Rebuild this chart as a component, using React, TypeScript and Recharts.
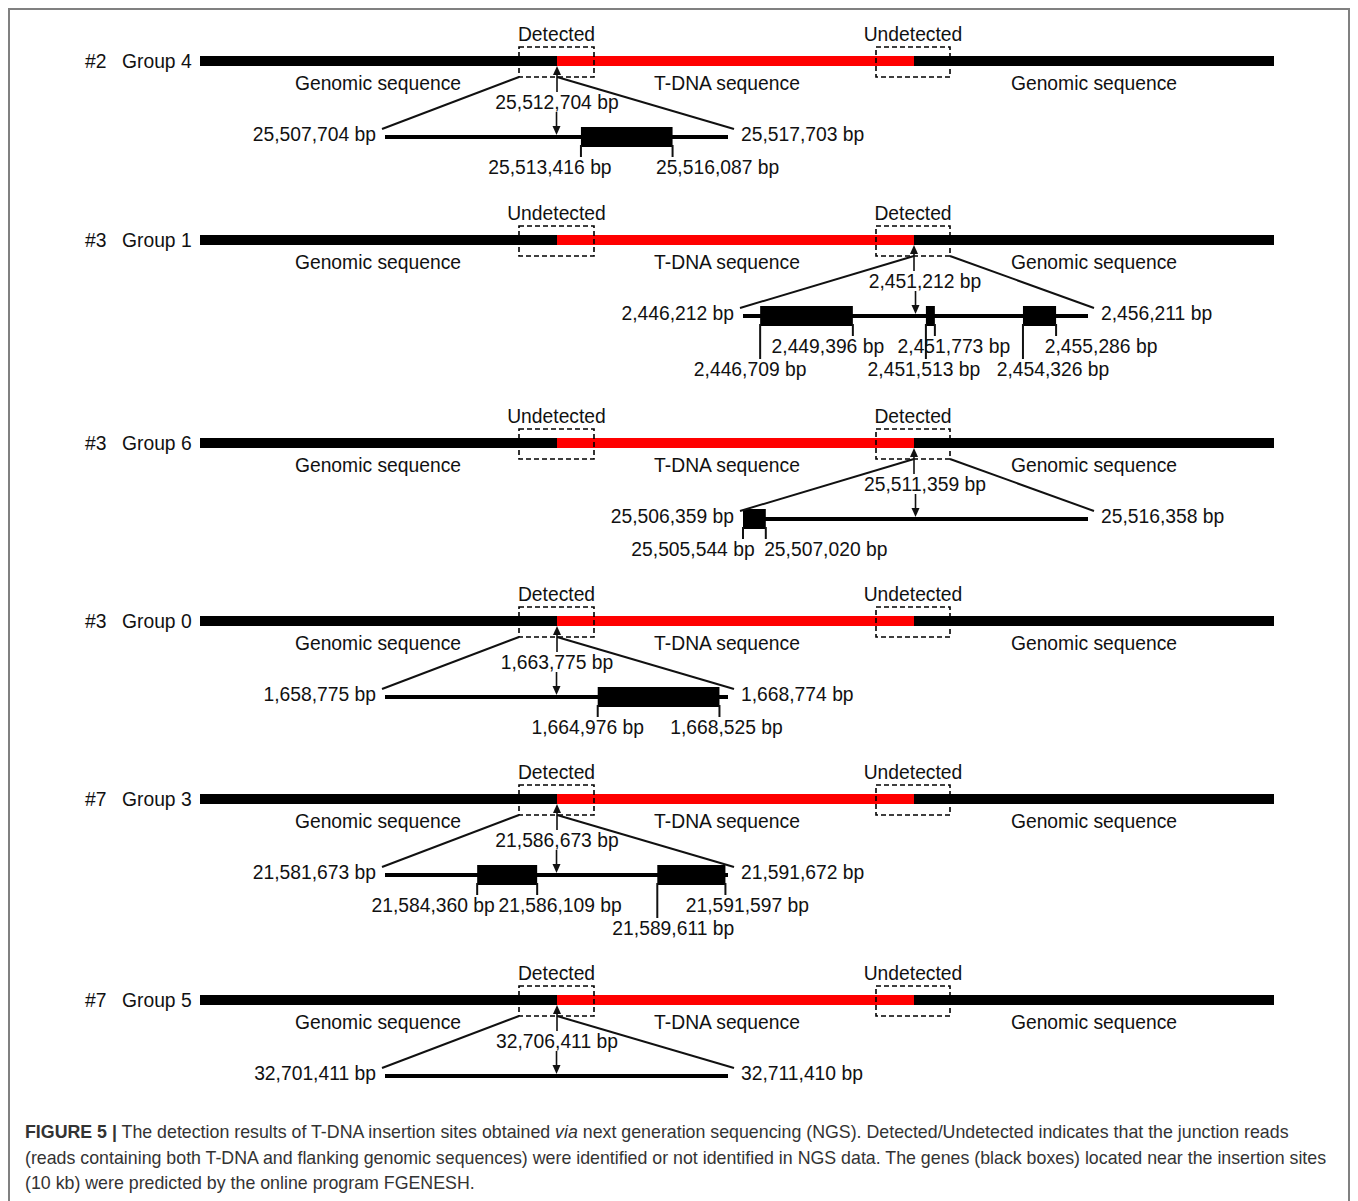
import React from 'react'
import { ComposedChart, XAxis, YAxis, Scatter, ReferenceArea, ReferenceLine } from 'recharts'

// ---- values ----
const lineIds = ['#2', '#3', '#3', '#3', '#7', '#7']
const groups = ['Group 4', 'Group 1', 'Group 6', 'Group 0', 'Group 3', 'Group 5']
// T-DNA border whose junction reads were found in the NGS data
const detectedSide = ['left', 'right', 'right', 'left', 'left', 'left']
const insertionBp = [25512704, 2451212, 25511359, 1663775, 21586673, 32706411]
const windowStart = [25507704, 2446212, 25506359, 1658775, 21581673, 32701411]
const windowEnd = [25517703, 2456211, 25516358, 1668774, 21591672, 32711410]
const genes: number[][][] = [
  [[25513416, 25516087]],
  [[2446709, 2449396], [2451513, 2451773], [2454326, 2455286]],
  [[25505544, 25507020]],
  [[1664976, 1668525]],
  [[21584360, 21586109], [21589611, 21591597]],
  [],
]

// ---- layout (diagram units = page pixels) ----
const W = 1338
const H = 1090
const X0 = 10
const Y0 = 10
const rowY = [61, 240, 443, 621, 799, 1000]
const BAR = [200, 1274]
const TDNA = [557, 914]
const BOX_L = [519, 594]
const BOX_R = [876, 950]
const INSET_L = [385, 728]
const INSET_R = [743, 1088]
const INSET_DY = 76
// gene label nudges: [startDx, startLevel, endDx, endLevel]
const geneLabelNudge: number[][][] = [
  [[-31, 0, 45, 0]],
  [[-10, 1, -25, 0], [-2, 1, 19, 0], [30, 1, 45, 0]],
  [[-50, 0, 60, 0]],
  [[-10, 0, 7, 0]],
  [[-44, 0, 23, 0], [16, 1, 22, 0]],
  [],
]

const FONT = '"Liberation Sans", Arial, Helvetica, sans-serif'
const INK = '#111'
const RED = '#ff0000'

const bp = (v: number) => `${v.toLocaleString('en-US')} bp`

function TextShape(props: any) {
  const { cx, cy, payload } = props
  if (cx == null || cy == null) return null
  return (
    <text x={cx + (payload.dx || 0)} y={cy} textAnchor={payload.anchor || 'middle'}
      dominantBaseline="central" fontFamily={FONT} fontSize={19.3} fill={INK}>
      {payload.text}
    </text>
  )
}

function ArrowShape(props: any) {
  const { cx, cy, payload } = props
  if (cx == null || cy == null) return null
  const s = payload.dir === 'up' ? 1 : -1
  return <polygon points={`${cx},${cy} ${cx - 4},${cy + s * 9} ${cx + 4},${cy + s * 9}`} fill={INK} />
}

const rows = groups.map((g, i) => {
  const left = detectedSide[i] === 'left'
  const y = rowY[i]
  const inset = y + INSET_DY
  const [a, b] = left ? INSET_L : INSET_R
  const k = (windowEnd[i] - windowStart[i]) / (b - a)
  const domain = [windowStart[i] - (a - X0) * k, windowEnd[i] + (X0 + W - b) * k]
  return { i, left, y, inset, a, b, domain, jx: left ? TDNA[0] : TDNA[1] }
})

const diagramTexts = rows.flatMap((r) => [
  { x: 85, y: r.y, text: lineIds[r.i], anchor: 'start' },
  { x: 122, y: r.y, text: groups[r.i], anchor: 'start' },
  { x: (BOX_L[0] + BOX_L[1]) / 2, y: r.y - 27, text: r.left ? 'Detected' : 'Undetected' },
  { x: (BOX_R[0] + BOX_R[1]) / 2, y: r.y - 27, text: r.left ? 'Undetected' : 'Detected' },
  { x: 378, y: r.y + 22, text: 'Genomic sequence' },
  { x: 727, y: r.y + 22, text: 'T-DNA sequence' },
  { x: 1094, y: r.y + 22, text: 'Genomic sequence' },
  { x: r.jx + (r.left ? 0 : 11), y: r.y + 41, text: bp(insertionBp[r.i]) },
  { x: r.a - 9, y: r.inset - 3, text: bp(windowStart[r.i]), anchor: 'end' },
  { x: r.b + 13, y: r.inset - 3, text: bp(windowEnd[r.i]), anchor: 'start' },
])

const upArrows = rows.map((r) => ({ x: r.jx, y: r.y + 5, dir: 'up' }))

export default function App() {
  return (
    <div style={{
      width: W, minHeight: 1200, borderTop: '2px solid #808080', borderLeft: '2px solid #808080',
      borderRight: '2px solid #808080', background: '#fff',
    }}>
      <ComposedChart width={W} height={H} margin={{ top: 0, right: 0, bottom: 0, left: 0 }}>
        <XAxis xAxisId="d" type="number" dataKey="x" domain={[X0, X0 + W]} allowDataOverflow hide />
        {rows.map((r) => (
          <XAxis key={`ax${r.i}`} xAxisId={`r${r.i}`} type="number" dataKey="x"
            domain={r.domain} allowDataOverflow hide />
        ))}
        <YAxis type="number" dataKey="y" domain={[Y0, Y0 + H]} reversed allowDataOverflow hide />

        {rows.flatMap((r) => [
          <ReferenceArea key={`bar${r.i}`} xAxisId="d" x1={BAR[0]} x2={BAR[1]} y1={r.y - 5} y2={r.y + 5}
            fill="#000" fillOpacity={1} stroke="none" />,
          <ReferenceArea key={`tdna${r.i}`} xAxisId="d" x1={TDNA[0]} x2={TDNA[1]} y1={r.y - 5} y2={r.y + 5}
            fill={RED} fillOpacity={1} stroke="none" />,
          <ReferenceArea key={`bl${r.i}`} xAxisId="d" x1={BOX_L[0]} x2={BOX_L[1]} y1={r.y - 14} y2={r.y + 16}
            fill="none" stroke="#000" strokeWidth={1.6} strokeDasharray="5 3" />,
          <ReferenceArea key={`br${r.i}`} xAxisId="d" x1={BOX_R[0]} x2={BOX_R[1]} y1={r.y - 14} y2={r.y + 16}
            fill="none" stroke="#000" strokeWidth={1.6} strokeDasharray="5 3" />,
          <ReferenceArea key={`in${r.i}`} xAxisId={`r${r.i}`} x1={windowStart[r.i]} x2={windowEnd[r.i]}
            y1={r.inset - 2} y2={r.inset + 2} fill="#000" fillOpacity={1} stroke="none" />,
          ...genes[r.i].map(([s, e], gi) => (
            <ReferenceArea key={`g${r.i}-${gi}`} xAxisId={`r${r.i}`} x1={Math.max(s, windowStart[r.i])} x2={e}
              y1={r.inset - 10} y2={r.inset + 10} fill="#000" fillOpacity={1} stroke="none" />
          )),
        ])}

        {rows.flatMap((r) => {
          const from = r.left ? [BOX_L[0], TDNA[0]] : [TDNA[1], BOX_R[1]]
          const rid = `r${r.i}`
          const lines = [
            <ReferenceLine key={`dl${r.i}`} xAxisId="d" stroke={INK} strokeWidth={2}
              segment={[{ x: from[0], y: r.y + 16 }, { x: r.a - 3, y: r.inset - 8 }]} />,
            <ReferenceLine key={`dr${r.i}`} xAxisId="d" stroke={INK} strokeWidth={2}
              segment={[{ x: from[1], y: r.y + 16 }, { x: r.b + 6, y: r.inset - 8 }]} />,
            <ReferenceLine key={`au${r.i}`} xAxisId="d" stroke={INK} strokeWidth={1.6}
              segment={[{ x: r.jx, y: r.y + 12 }, { x: r.jx, y: r.y + 31 }]} />,
            <ReferenceLine key={`ad${r.i}`} xAxisId={rid} stroke={INK} strokeWidth={1.6}
              segment={[{ x: insertionBp[r.i], y: r.y + 51 }, { x: insertionBp[r.i], y: r.inset - 8 }]} />,
          ]
          genes[r.i].forEach(([s, e], gi) => {
            const n = geneLabelNudge[r.i][gi]
            ;[[Math.max(s, windowStart[r.i]), n[1]], [e, n[3]]].forEach(([v, lvl], ti) => {
              lines.push(
                <ReferenceLine key={`t${r.i}-${gi}-${ti}`} xAxisId={rid} stroke={INK} strokeWidth={2}
                  segment={[{ x: v, y: r.inset + 8 }, { x: v, y: r.inset + (lvl ? 43 : 20) }]} />,
              )
            })
          })
          return lines
        })}

        <Scatter xAxisId="d" data={upArrows} shape={ArrowShape} isAnimationActive={false} />
        {rows.map((r) => (
          <Scatter key={`da${r.i}`} xAxisId={`r${r.i}`} data={[{ x: insertionBp[r.i], y: r.inset - 2, dir: 'down' }]}
            shape={ArrowShape} isAnimationActive={false} />
        ))}
        <Scatter xAxisId="d" data={diagramTexts} shape={TextShape} isAnimationActive={false} />
        {rows.map((r) => (
          <Scatter key={`gl${r.i}`} xAxisId={`r${r.i}`} isAnimationActive={false} shape={TextShape}
            data={genes[r.i].flatMap(([s, e], gi) => {
              const n = geneLabelNudge[r.i][gi]
              const sx = Math.max(s, windowStart[r.i])
              return [
                { x: sx, y: r.inset + (n[1] ? 53 : 30), dx: n[0], text: bp(s) },
                { x: e, y: r.inset + (n[3] ? 53 : 30), dx: n[2], text: bp(e) },
              ]
            })} />
        ))}
      </ComposedChart>
      <div style={{
        marginTop: 20, paddingLeft: 15, fontFamily: FONT, fontSize: 17.8, lineHeight: '25.5px',
        color: '#333', whiteSpace: 'nowrap',
      }}>
        <div><b>FIGURE 5 |</b> The detection results of T-DNA insertion sites obtained <i>via</i> next generation sequencing (NGS). Detected/Undetected indicates that the junction reads</div>
        <div>(reads containing both T-DNA and flanking genomic sequences) were identified or not identified in NGS data. The genes (black boxes) located near the insertion sites</div>
        <div>(10 kb) were predicted by the online program FGENESH.</div>
      </div>
    </div>
  )
}
